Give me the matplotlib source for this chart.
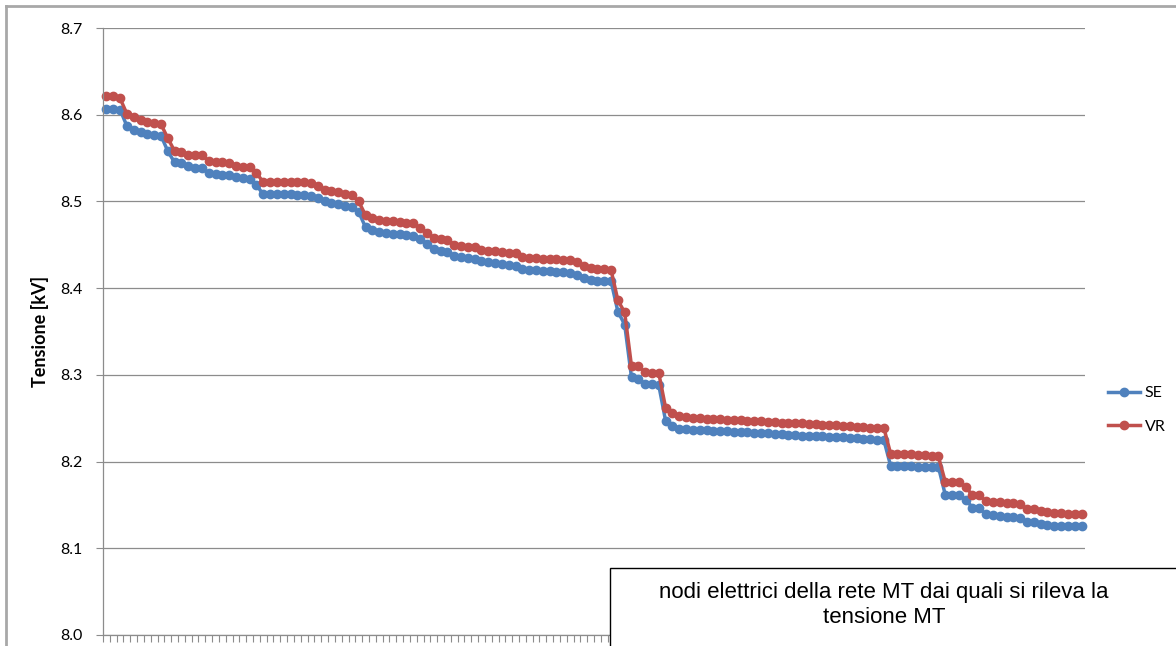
import numpy as np
import matplotlib
matplotlib.use("Agg")
import matplotlib.pyplot as plt
from matplotlib.patches import Rectangle
from matplotlib.lines import Line2D

# Tensione MT ai nodi elettrici della rete (kV), nodi ordinati per tensione decrescente
se = [
    8.607, 8.607, 8.606, 8.587, 8.582, 8.580, 8.578, 8.577, 8.576, 8.558,
    8.545, 8.544, 8.541, 8.539, 8.538, 8.533, 8.532, 8.531, 8.531, 8.528,
    8.527, 8.526, 8.519, 8.508, 8.508, 8.508, 8.508, 8.508, 8.507, 8.507,
    8.506, 8.504, 8.500, 8.498, 8.497, 8.495, 8.494, 8.488, 8.470, 8.467,
    8.465, 8.464, 8.463, 8.462, 8.461, 8.460, 8.457, 8.451, 8.445, 8.443,
    8.442, 8.437, 8.436, 8.435, 8.434, 8.431, 8.430, 8.429, 8.428, 8.427,
    8.425, 8.422, 8.421, 8.421, 8.420, 8.420, 8.419, 8.419, 8.418, 8.415,
    8.412, 8.409, 8.408, 8.408, 8.408, 8.373, 8.358, 8.297, 8.295, 8.290,
    8.289, 8.288, 8.247, 8.241, 8.238, 8.237, 8.236, 8.236, 8.236, 8.235,
    8.235, 8.235, 8.234, 8.234, 8.234, 8.233, 8.233, 8.233, 8.232, 8.232,
    8.231, 8.231, 8.230, 8.230, 8.229, 8.229, 8.228, 8.228, 8.228, 8.227,
    8.227, 8.226, 8.226, 8.225, 8.225, 8.195, 8.195, 8.195, 8.195, 8.194,
    8.194, 8.194, 8.194, 8.162, 8.162, 8.161, 8.156, 8.147, 8.146, 8.139,
    8.138, 8.137, 8.136, 8.136, 8.135, 8.130, 8.130, 8.128, 8.127, 8.126,
    8.126, 8.126, 8.126, 8.126,
]
vr = [
    8.622, 8.622, 8.619, 8.601, 8.597, 8.594, 8.592, 8.591, 8.589, 8.573,
    8.558, 8.557, 8.554, 8.553, 8.553, 8.547, 8.546, 8.545, 8.544, 8.541,
    8.540, 8.540, 8.533, 8.522, 8.522, 8.522, 8.522, 8.522, 8.522, 8.522,
    8.521, 8.518, 8.513, 8.512, 8.511, 8.508, 8.507, 8.500, 8.484, 8.481,
    8.479, 8.478, 8.477, 8.476, 8.475, 8.475, 8.469, 8.464, 8.458, 8.457,
    8.456, 8.450, 8.449, 8.448, 8.447, 8.444, 8.443, 8.443, 8.442, 8.441,
    8.440, 8.436, 8.435, 8.435, 8.434, 8.434, 8.434, 8.433, 8.432, 8.430,
    8.426, 8.423, 8.422, 8.422, 8.421, 8.386, 8.372, 8.310, 8.310, 8.303,
    8.302, 8.302, 8.262, 8.256, 8.253, 8.251, 8.250, 8.250, 8.249, 8.249,
    8.249, 8.248, 8.248, 8.248, 8.247, 8.247, 8.247, 8.246, 8.246, 8.245,
    8.245, 8.244, 8.244, 8.243, 8.243, 8.242, 8.242, 8.242, 8.241, 8.241,
    8.240, 8.240, 8.239, 8.239, 8.239, 8.209, 8.209, 8.209, 8.209, 8.208,
    8.208, 8.207, 8.206, 8.177, 8.177, 8.176, 8.171, 8.161, 8.161, 8.154,
    8.153, 8.153, 8.152, 8.152, 8.151, 8.145, 8.145, 8.143, 8.142, 8.141,
    8.141, 8.140, 8.140, 8.140,
]
series_names = ["SE", "VR"]
y_ticks = [8.0, 8.1, 8.2, 8.3, 8.4, 8.5, 8.6, 8.7]
y_label = "Tensione [kV]"
note = "nodi elettrici della rete MT dai quali si rileva la\ntensione MT"

BLUE = "#4F81BD"
RED = "#C0504D"
GRID = "#8C8C8C"

plt.rcParams["font.family"] = ["Lato", "DejaVu Sans"]

fig = plt.figure(figsize=(11.76, 6.46), dpi=100)
W, H = 1176, 646
ax = fig.add_axes([103 / W, (H - 635) / H, (1085 - 103) / W, (635 - 28) / H])

x = np.arange(len(se))
for vals, name, col in [(se, series_names[0], BLUE), (vr, series_names[1], RED)]:
    ax.plot(x, vals, color=col, lw=2.5, marker="o", ms=6.0,
            markeredgecolor=col, markerfacecolor=col, label=name,
            solid_joinstyle="round", clip_on=False)

ax.set_xlim(-0.5, len(se) - 0.5)
ax.set_ylim(y_ticks[0], y_ticks[-1])
ax.set_yticks(y_ticks)
ax.set_yticklabels([f"{v:.1f}" for v in y_ticks], fontsize=11.5)
ax.set_xticks(np.arange(-0.5, len(se), 1.0))
ax.set_xticklabels([])
ax.tick_params(axis="x", direction="out", length=5, width=0.8, color=GRID)
ax.tick_params(axis="y", direction="out", length=5, width=0.8, color=GRID, pad=10)
ax.yaxis.grid(True, color=GRID, lw=0.9)
ax.set_axisbelow(True)
for s in ["top", "right"]:
    ax.spines[s].set_visible(False)
for s in ["left", "bottom"]:
    ax.spines[s].set_color(GRID)
    ax.spines[s].set_linewidth(0.9)
ax.set_ylabel(y_label, fontsize=13, fontweight="bold", labelpad=8)

# legend on the right
handles = [Line2D([], [], color=c, lw=2.5, marker="o", ms=6.0) for c in (BLUE, RED)]
fig.legend(handles, series_names, loc="upper left",
           bbox_to_anchor=(1108 / W, (H - 386) / H), frameon=False,
           fontsize=11.5, handlelength=2.0, handletextpad=0.3, labelspacing=1.2,
           borderaxespad=0, borderpad=0)

# outer chart frame (left and top edges)
fig.add_artist(Line2D([6 / W, 6 / W], [0, (H - 6) / H], color="#A8A8A8", lw=2,
                      transform=fig.transFigure))
fig.add_artist(Line2D([6 / W, 1], [(H - 6) / H, (H - 6) / H], color="#A8A8A8", lw=2,
                      transform=fig.transFigure))

# note box
fig.add_artist(Rectangle((610 / W, -0.05), (1200 - 610) / W, (H - 568) / H + 0.05,
                         transform=fig.transFigure, facecolor="white",
                         edgecolor="black", lw=1.0, clip_on=False))
fig.text(884 / W, (H - 605) / H, note, ha="center", va="center",
         fontsize=16, family=["Liberation Sans", "DejaVu Sans"], linespacing=1.28)

fig.savefig("out.png", dpi=100)
